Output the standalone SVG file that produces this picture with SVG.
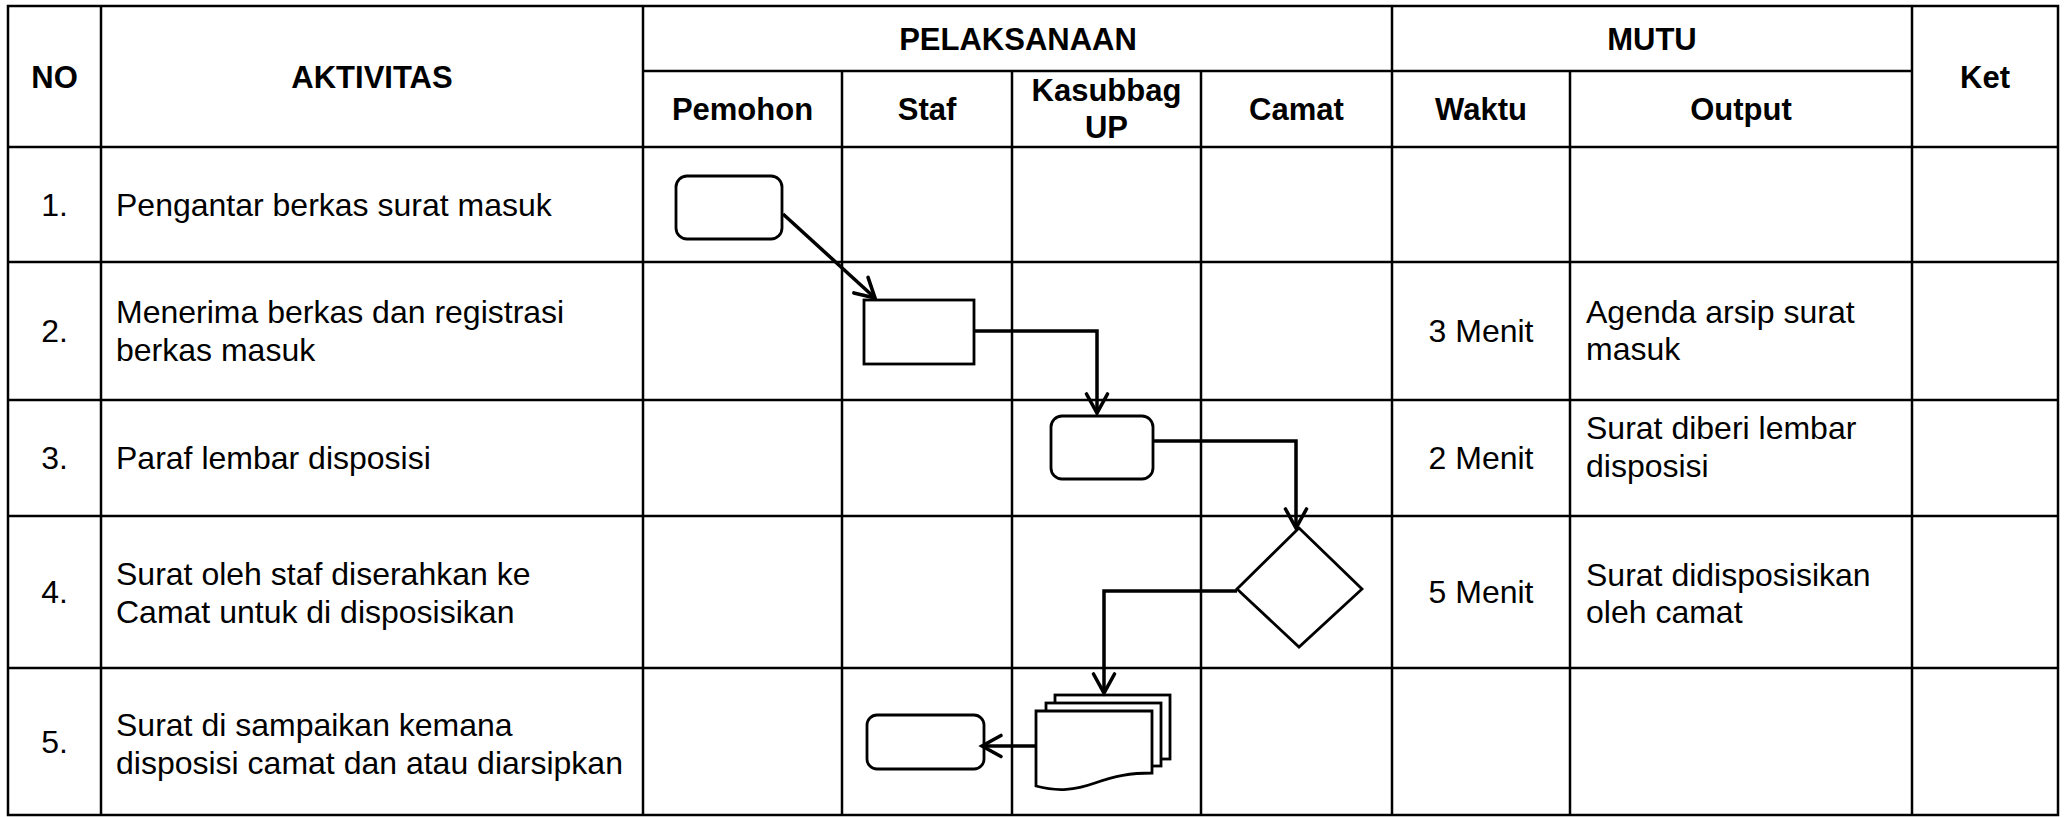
<svg xmlns="http://www.w3.org/2000/svg" width="2066" height="817" viewBox="0 0 2066 817">
<style>
.grid{stroke:#000;stroke-width:2.5;fill:none}
.hd{font-family:"Liberation Sans",Arial,sans-serif;font-weight:bold;font-size:31px;fill:#000;text-anchor:middle}
.tx{font-family:"Liberation Sans",Arial,sans-serif;font-size:32px;fill:#000}
.ctr{text-anchor:middle}
.shape{stroke:#000;stroke-width:2.8;fill:#fff}
.conn{stroke:#000;stroke-width:3.5;fill:none}
</style>
<defs>
<marker id="arr" viewBox="-22 -13 26 26" refX="0" refY="0" markerWidth="26" markerHeight="26" markerUnits="userSpaceOnUse" orient="auto">
<path d="M-19,-10.5 L0,0 L-19,10.5" fill="none" stroke="#000" stroke-width="3.6" stroke-linecap="round" stroke-linejoin="miter"/>
</marker>
</defs>
<rect width="2066" height="817" fill="#fff"/>
<g id="table">
<rect class="grid" x="8" y="6" width="2050" height="809"/>
<path class="grid" d="M101,6V815 M643,6V815 M1392,6V815 M1912,6V815 M842,71V815 M1012,71V815 M1201,71V815 M1570,71V815 M643,71H1912 M8,147H2058 M8,262H2058 M8,400H2058 M8,516H2058 M8,668H2058"/>
</g>
<g id="headers">
<text class="hd" x="54.5" y="88">NO</text>
<text class="hd" x="372" y="88">AKTIVITAS</text>
<text class="hd" x="1018" y="50">PELAKSANAAN</text>
<text class="hd" x="1652" y="50">MUTU</text>
<text class="hd" x="1985" y="88">Ket</text>
<text class="hd" x="742.5" y="120">Pemohon</text>
<text class="hd" x="927" y="120">Staf</text>
<text class="hd" x="1106.5" y="101">Kasubbag</text>
<text class="hd" x="1106.5" y="138">UP</text>
<text class="hd" x="1296.5" y="120">Camat</text>
<text class="hd" x="1481" y="120">Waktu</text>
<text class="hd" x="1741" y="120">Output</text>
</g>
<g id="rows">
<text class="tx ctr" x="54.5" y="216">1.</text>
<text class="tx ctr" x="54.5" y="342">2.</text>
<text class="tx ctr" x="54.5" y="469">3.</text>
<text class="tx ctr" x="54.5" y="603">4.</text>
<text class="tx ctr" x="54.5" y="753">5.</text>
<text class="tx" x="116" y="216">Pengantar berkas surat masuk</text>
<text class="tx" x="116" y="323">Menerima berkas dan registrasi</text>
<text class="tx" x="116" y="361">berkas masuk</text>
<text class="tx" x="116" y="469">Paraf lembar disposisi</text>
<text class="tx" x="116" y="585">Surat oleh staf diserahkan ke</text>
<text class="tx" x="116" y="623">Camat untuk di disposisikan</text>
<text class="tx" x="116" y="736">Surat di sampaikan kemana</text>
<text class="tx" x="116" y="774">disposisi camat dan atau diarsipkan</text>
<text class="tx ctr" x="1481" y="342">3 Menit</text>
<text class="tx ctr" x="1481" y="469">2 Menit</text>
<text class="tx ctr" x="1481" y="603">5 Menit</text>
<text class="tx" x="1586" y="323">Agenda arsip surat</text>
<text class="tx" x="1586" y="360">masuk</text>
<text class="tx" x="1586" y="439">Surat diberi lembar</text>
<text class="tx" x="1586" y="477">disposisi</text>
<text class="tx" x="1586" y="586">Surat didisposisikan</text>
<text class="tx" x="1586" y="623">oleh camat</text>
</g>
<g id="n1"><rect class="shape" x="676" y="176" width="106" height="63" rx="11"/></g>
<g id="n2"><rect class="shape" x="864" y="300" width="110" height="64"/></g>
<g id="n3"><rect class="shape" x="1051" y="416" width="102" height="63" rx="11"/></g>
<g id="n4"><path class="shape" d="M1299,528 L1362,589 L1299,647 L1237,589 Z"/></g>
<g id="n5">
<rect class="shape" x="1055" y="695" width="115" height="64"/>
<rect class="shape" x="1046" y="703" width="115" height="63"/>
<path class="shape" d="M1036,711 H1152 V773 C1130,773 1115,776 1095,783 C1075,790 1058,792 1036,786 Z"/>
</g>
<g id="n6"><rect class="shape" x="867" y="715" width="117" height="54" rx="10"/></g>
<g id="connectors">
<path class="conn" marker-end="url(#arr)" d="M783,214 L875,298"/>
<path class="conn" marker-end="url(#arr)" d="M974,331 H1097 V413"/>
<path class="conn" marker-end="url(#arr)" d="M1152,441 H1296 V528"/>
<path class="conn" marker-end="url(#arr)" d="M1237,591 H1104 V693"/>
<path class="conn" marker-end="url(#arr)" d="M1036,746 H982"/>
</g>
</svg>
